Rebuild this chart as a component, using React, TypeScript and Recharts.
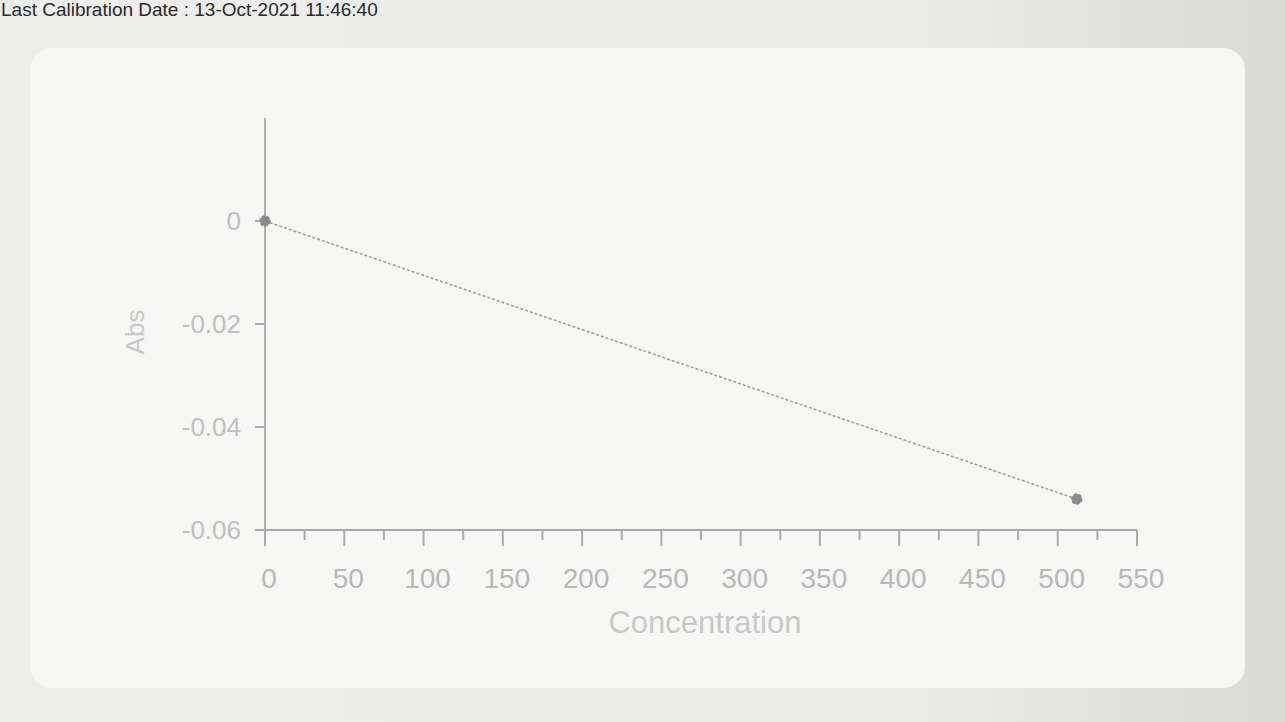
import { LineChart, Line, XAxis, YAxis, Label } from 'recharts';

// calibration points
const concentrations = [0, 512];
const absValues = [0, -0.054];

// axis ticks (minor every 25, labels every 50)
const xTicks = [0, 25, 50, 75, 100, 125, 150, 175, 200, 225, 250, 275, 300, 325, 350, 375, 400, 425, 450, 475, 500, 525, 550];
const xLabelTicks = [0, 50, 100, 150, 200, 250, 300, 350, 400, 450, 500, 550];
const yTicks = [0, -0.02, -0.04, -0.06];

const calibrationDate = 'Last Calibration Date : 13-Oct-2021 11:46:40';

const data = concentrations.map((c, i) => ({ conc: c, abs: absValues[i] }));

const FONT = "'Liberation Sans', Arial, sans-serif";

function XTick(props: any) {
  const { x, y, payload } = props;
  const v = payload.value;
  const major = xLabelTicks.includes(v);
  return (
    <g>
      <line x1={x} x2={x} y1={y} y2={y + (major ? 16 : 10)} stroke="#aaa" strokeWidth={2} />
      {major && (
        <text x={x + 4} y={y + 58} textAnchor="middle" fill="#b8b8b8" fontSize={28} fontFamily={FONT}>
          {v}
        </text>
      )}
    </g>
  );
}

function AbsLabel(props: any) {
  const { x, y, height } = props.viewBox;
  const cx = x + 10;
  const cy = y + height / 2 + 8;
  return (
    <text
      x={cx}
      y={cy}
      transform={`rotate(-90, ${cx}, ${cy})`}
      textAnchor="middle"
      dominantBaseline="central"
      fill="#c8c8c8"
      fontSize={26}
      fontFamily={FONT}
    >
      Abs
    </text>
  );
}

function ConcLabel(props: any) {
  const { x, y, width } = props.viewBox;
  return (
    <text x={x + width / 2 + 4} y={y + 103} textAnchor="middle" fill="#c8c8c8" fontSize={31} fontFamily={FONT}>
      Concentration
    </text>
  );
}

export default function App() {
  return (
    <div
      style={{
        position: 'absolute',
        left: 0,
        top: 0,
        width: 1285,
        height: 722,
        overflow: 'hidden',
        background: 'linear-gradient(to right, #eeeeec 0%, #ebebe9 70%, #d9d9d7 100%)',
        fontFamily: FONT,
      }}
    >
      <div style={{ position: 'absolute', left: 1, top: -1, fontSize: 19, color: '#2a2a2a', whiteSpace: 'nowrap' }}>
        {calibrationDate}
      </div>
      <div
        style={{
          position: 'absolute',
          left: 30,
          top: 48,
          width: 1215,
          height: 640,
          borderRadius: 22,
          background: '#f7f7f5',
        }}
      />
      <div style={{ position: 'absolute', left: 0, top: 0 }}>
        <LineChart width={1285} height={722} data={data} margin={{ top: 118, right: 148, left: 125, bottom: 82 }}>
          <XAxis
            type="number"
            dataKey="conc"
            domain={[0, 550]}
            ticks={xTicks}
            interval={0}
            height={110}
            tickSize={0}
            tickMargin={0}
            tickLine={false}
            tick={<XTick />}
            axisLine={{ stroke: '#a8a8a8', strokeWidth: 2 }}
          >
            <Label content={<ConcLabel />} />
          </XAxis>
          <YAxis
            type="number"
            dataKey="abs"
            domain={[-0.06, 0.02]}
            ticks={yTicks}
            interval={0}
            width={140}
            tickSize={10}
            tickMargin={14}
            tick={{ fill: '#c0c0c0', fontSize: 26, fontFamily: FONT }}
            tickLine={{ stroke: '#aaa', strokeWidth: 2 }}
            axisLine={{ stroke: '#b0b0b0', strokeWidth: 2 }}
            allowDataOverflow
          >
            <Label content={<AbsLabel />} />
          </YAxis>
          <Line
            type="linear"
            dataKey="abs"
            stroke="#9a9a9a"
            strokeWidth={1.5}
            strokeDasharray="3 2"
            dot={{ r: 5, fill: '#8a8a8a', stroke: '#8a8a8a' }}
            isAnimationActive={false}
          />
        </LineChart>
      </div>
    </div>
  );
}
